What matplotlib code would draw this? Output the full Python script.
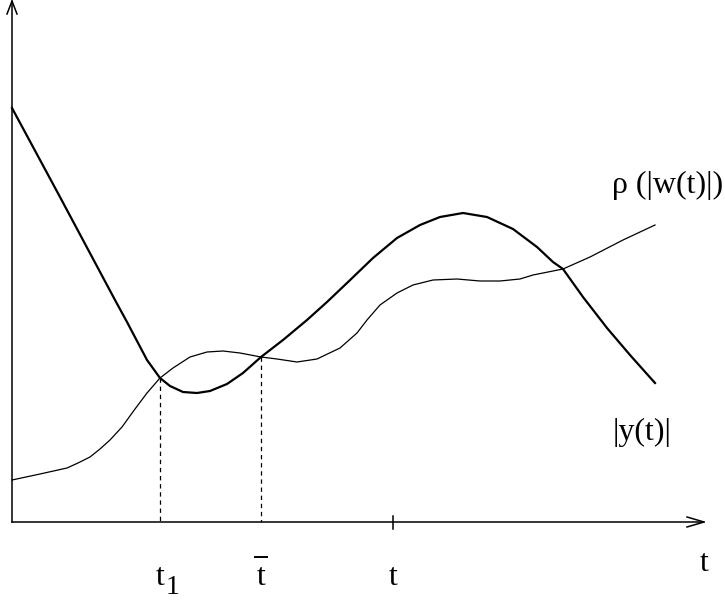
import matplotlib
matplotlib.use('Agg')
import matplotlib.pyplot as plt
import numpy as np

# === Settings ===
plt.rcParams['font.family'] = ['Liberation Serif', 'DejaVu Serif']
fs = 23

# === Curves (pixel coords, y downwards) ===
y_x = [12, 60, 115, 127, 137, 147, 160, 170, 183, 197, 210, 227, 243, 261,
       283, 307, 327, 347, 373, 397, 420, 440, 463, 487, 513, 537, 553, 563,
       583, 607, 630, 655]
y_y = [108, 197, 300, 322, 341, 360, 378, 386, 392, 393, 391, 384, 373, 357,
       340, 320, 302, 283, 258, 238, 225, 217, 213, 217, 229, 247, 262, 269,
       297, 328, 355, 383]

rho_x = [12, 40, 67, 78, 90, 100, 110, 122, 135, 147, 160, 173, 190, 207,
         223, 240, 261, 277, 297, 317, 340, 357, 367, 380, 397, 413, 433,
         457, 480, 500, 520, 533, 563, 590, 623, 655]
rho_y = [480, 474, 468, 463, 457, 449, 440, 427, 409, 393, 378, 368, 357, 352,
         351, 353, 357, 359, 362, 359, 348, 333, 320, 305, 293, 285, 280,
         279, 281, 281, 279, 275, 269, 257, 240, 225]

# special times on the axis
t1_x = 160
tbar_x = 261
t_x = 393

fig = plt.figure(figsize=(7.25, 6.02), dpi=100)
ax = fig.add_axes([0, 0, 1, 1])
ax.set_xlim(0, 725)
ax.set_ylim(602, 0)
ax.axis('off')

# axes with open arrow heads
x0, y0 = 12, 522
ax.plot([x0, x0], [y0, 1], color='black', lw=1.1)
ax.plot([x0 - 5, x0, x0 + 5], [14, 1, 14], color='black', lw=1.1)
ax.plot([x0, 704], [y0, y0], color='black', lw=1.1)
ax.plot([687, 704, 687], [517, y0, 527], color='black', lw=1.1)
ax.plot([t_x, t_x], [516, 529], color='black', lw=1.1)

# curves
ax.plot(y_x, y_y, color='black', lw=1.6, solid_joinstyle='round')
ax.plot(rho_x, rho_y, color='black', lw=0.9, solid_joinstyle='round')

# dashed guides
ax.plot([t1_x, t1_x], [np.interp(t1_x, y_x, y_y), y0], color='black',
        lw=0.9, ls=(0, (3.5, 3)))
ax.plot([tbar_x, tbar_x], [np.interp(tbar_x, y_x, y_y), y0], color='black',
        lw=0.9, ls=(0, (3.5, 3)))

# labels
ax.text(t1_x, 585, 't', fontsize=fs, ha='center', va='baseline')
ax.text(t1_x + 13, 594, '1', fontsize=fs - 3, ha='center', va='baseline')
ax.text(tbar_x, 585, 't', fontsize=fs, ha='center', va='baseline')
ax.plot([tbar_x - 6, tbar_x + 6], [557, 557], color='black', lw=1.4)
ax.text(t_x, 585, 't', fontsize=fs, ha='center', va='baseline')
ax.text(704, 571, 't', fontsize=fs, ha='center', va='baseline')
ax.text(612, 193, 'ρ (|w(t)|)', fontsize=fs, ha='left', va='baseline')
ax.text(613, 440, '|y(t)|', fontsize=fs, ha='left', va='baseline')

plt.savefig('out.png', dpi=100)
